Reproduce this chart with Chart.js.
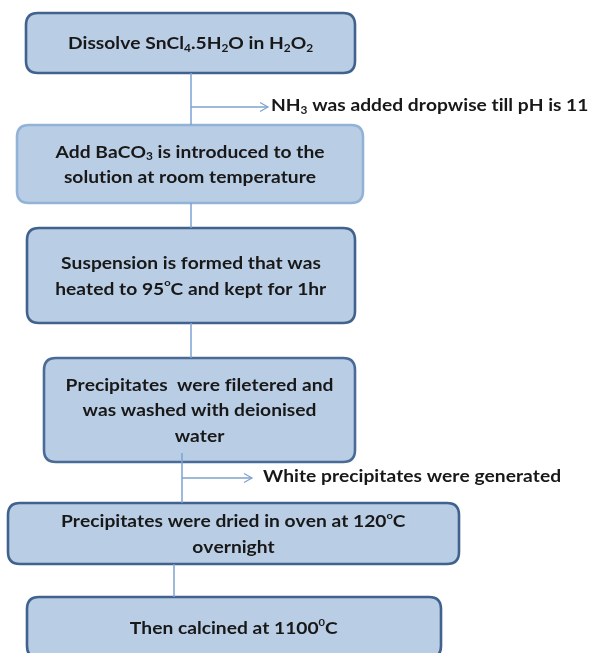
<!DOCTYPE html>
<html>
<head>
<meta charset="utf-8">
<script src="https://cdn.jsdelivr.net/npm/chart.js@4.4.0/dist/chart.umd.min.js"></script>
<style>
  html, body { margin: 0; padding: 0; background: #ffffff; }
  #flow { display: block; }
</style>
</head>
<body>
<canvas id="flow" width="595" height="653"></canvas>
<script>
// step texts; _x = subscript char, ^x = superscript char
const stepText = [
    ['Dissolve SnCl_4.5H_2O in H_2O_2'],
    ['Add BaCO_3 is introduced to the', 'solution at room temperature'],
    ['Suspension is formed that was', 'heated to 95^oC and kept for 1hr'],
    ['Precipitates  were filetered and', 'was washed with deionised', 'water'],
    ['Precipitates were dried in oven at 120^oC', 'overnight'],
    ['Then calcined at 1100^0C']
];
const boxLeft = [26, 17, 27, 44, 8, 27];
const boxRight = [355, 363, 355, 355, 459, 441];
const boxTop = [13, 125, 228, 358, 503, 597];
const boxBottom = [73, 203, 323, 462, 564, 658];

const linkX = [191, 191, 191, 182, 174];
const linkFrom = [73, 203, 323, 453, 564];
const linkTo = [125, 228, 358, 503, 597];

const sideNotes = ['NH_3 was added dropwise till pH is 11', 'White precipitates were generated'];
const noteY = [107, 478];
const noteStemX = [191, 182];
const noteArrowX = [268, 252];
const noteTextX = [271, 263];

const fillBox = '#b9cde5';
const edgeBox = ['#41628c', '#93b2d8', '#41628c', '#4a6b96', '#41628c', '#41628c'];
const lineBlue = '#7ea3cf';
const inkText = '#181818';
const fontFam = 'Lato, "Open Sans", sans-serif';
const textSize = 17;
const stretch = 1.13;

function richWidth(ctx, s, size) {
    let w = 0;
    for (let i = 0; i < s.length; i++) {
        let ch = s[i], sz = size;
        if ((ch === '_' || ch === '^') && i + 1 < s.length) { ch = s[++i]; sz = size * 0.62; }
        ctx.font = 'bold ' + sz + 'px ' + fontFam;
        w += ctx.measureText(ch).width;
    }
    return w * stretch;
}

function richDraw(ctx, s, x, y, size) {
    ctx.save();
    ctx.translate(x, y);
    ctx.scale(stretch, 1);
    let px = 0;
    for (let i = 0; i < s.length; i++) {
        let ch = s[i], sz = size, dy = 0;
        if (ch === '_' && i + 1 < s.length) { ch = s[++i]; sz = size * 0.62; dy = 4.5; }
        else if (ch === '^' && i + 1 < s.length) { ch = s[++i]; sz = size * 0.58; dy = -6; }
        ctx.font = 'bold ' + sz + 'px ' + fontFam;
        ctx.fillText(ch, px, dy);
        px += ctx.measureText(ch).width;
    }
    ctx.restore();
}

function roundBox(ctx, x0, y0, x1, y1, r) {
    ctx.beginPath();
    ctx.moveTo(x0 + r, y0);
    ctx.lineTo(x1 - r, y0);
    ctx.quadraticCurveTo(x1, y0, x1, y0 + r);
    ctx.lineTo(x1, y1 - r);
    ctx.quadraticCurveTo(x1, y1, x1 - r, y1);
    ctx.lineTo(x0 + r, y1);
    ctx.quadraticCurveTo(x0, y1, x0, y1 - r);
    ctx.lineTo(x0, y0 + r);
    ctx.quadraticCurveTo(x0, y0, x0 + r, y0);
    ctx.closePath();
}

const flowPlugin = {
    id: 'flowBoxes',
    beforeDatasetsDraw(chart) {
        const ctx = chart.ctx, xs = chart.scales.x, ys = chart.scales.y;
        ctx.save();
        stepText.forEach((lines, i) => {
            const x0 = xs.getPixelForValue(boxLeft[i]), x1 = xs.getPixelForValue(boxRight[i]);
            const y0 = ys.getPixelForValue(boxTop[i]), y1 = ys.getPixelForValue(boxBottom[i]);
            roundBox(ctx, x0, y0, x1, y1, 12);
            ctx.fillStyle = fillBox;
            ctx.fill();
            ctx.lineWidth = 2.6;
            ctx.strokeStyle = edgeBox[i];
            ctx.stroke();
        });
        ctx.restore();
    },
    afterDatasetsDraw(chart) {
        const ctx = chart.ctx, xs = chart.scales.x, ys = chart.scales.y;
        ctx.save();
        ctx.fillStyle = inkText;
        ctx.textBaseline = 'middle';
        ctx.textAlign = 'left';
        stepText.forEach((lines, i) => {
            const cx = (xs.getPixelForValue(boxLeft[i]) + xs.getPixelForValue(boxRight[i])) / 2;
            const cy = (ys.getPixelForValue(boxTop[i]) + ys.getPixelForValue(boxBottom[i])) / 2 + 1;
            const lh = 25.5;
            lines.forEach((ln, j) => {
                const w = richWidth(ctx, ln, textSize);
                const y = cy + (j - (lines.length - 1) / 2) * lh;
                richDraw(ctx, ln, cx - w / 2, y, textSize);
            });
        });
        sideNotes.forEach((t, i) => {
            const ax = xs.getPixelForValue(noteArrowX[i]), ay = ys.getPixelForValue(noteY[i]);
            ctx.strokeStyle = lineBlue;
            ctx.lineWidth = 1.2;
            ctx.beginPath();
            ctx.moveTo(ax - 8, ay - 4.5);
            ctx.lineTo(ax, ay);
            ctx.lineTo(ax - 8, ay + 4.5);
            ctx.stroke();
            ctx.fillStyle = inkText;
            richDraw(ctx, t, xs.getPixelForValue(noteTextX[i]), ay - 1, textSize);
        });
        ctx.restore();
    }
};

const linkSets = linkX.map((x, i) => ({
    data: [{ x: x, y: linkFrom[i] }, { x: x, y: linkTo[i] }],
    showLine: true, borderColor: lineBlue, borderWidth: 1.5, pointRadius: 0
}));
const noteSets = noteY.map((y, i) => ({
    data: [{ x: noteStemX[i], y: y }, { x: noteArrowX[i], y: y }],
    showLine: true, borderColor: lineBlue, borderWidth: 1.3, pointRadius: 0
}));

new Chart(document.getElementById('flow'), {
    type: 'scatter',
    data: { datasets: linkSets.concat(noteSets) },
    options: {
        responsive: false,
        animation: false,
        layout: { padding: 0 },
        plugins: { legend: { display: false }, tooltip: { enabled: false } },
        scales: {
            x: { type: 'linear', min: 0, max: 595, display: false },
            y: { type: 'linear', min: 0, max: 653, reverse: true, display: false }
        }
    },
    plugins: [flowPlugin]
});
</script>
</body>
</html>
